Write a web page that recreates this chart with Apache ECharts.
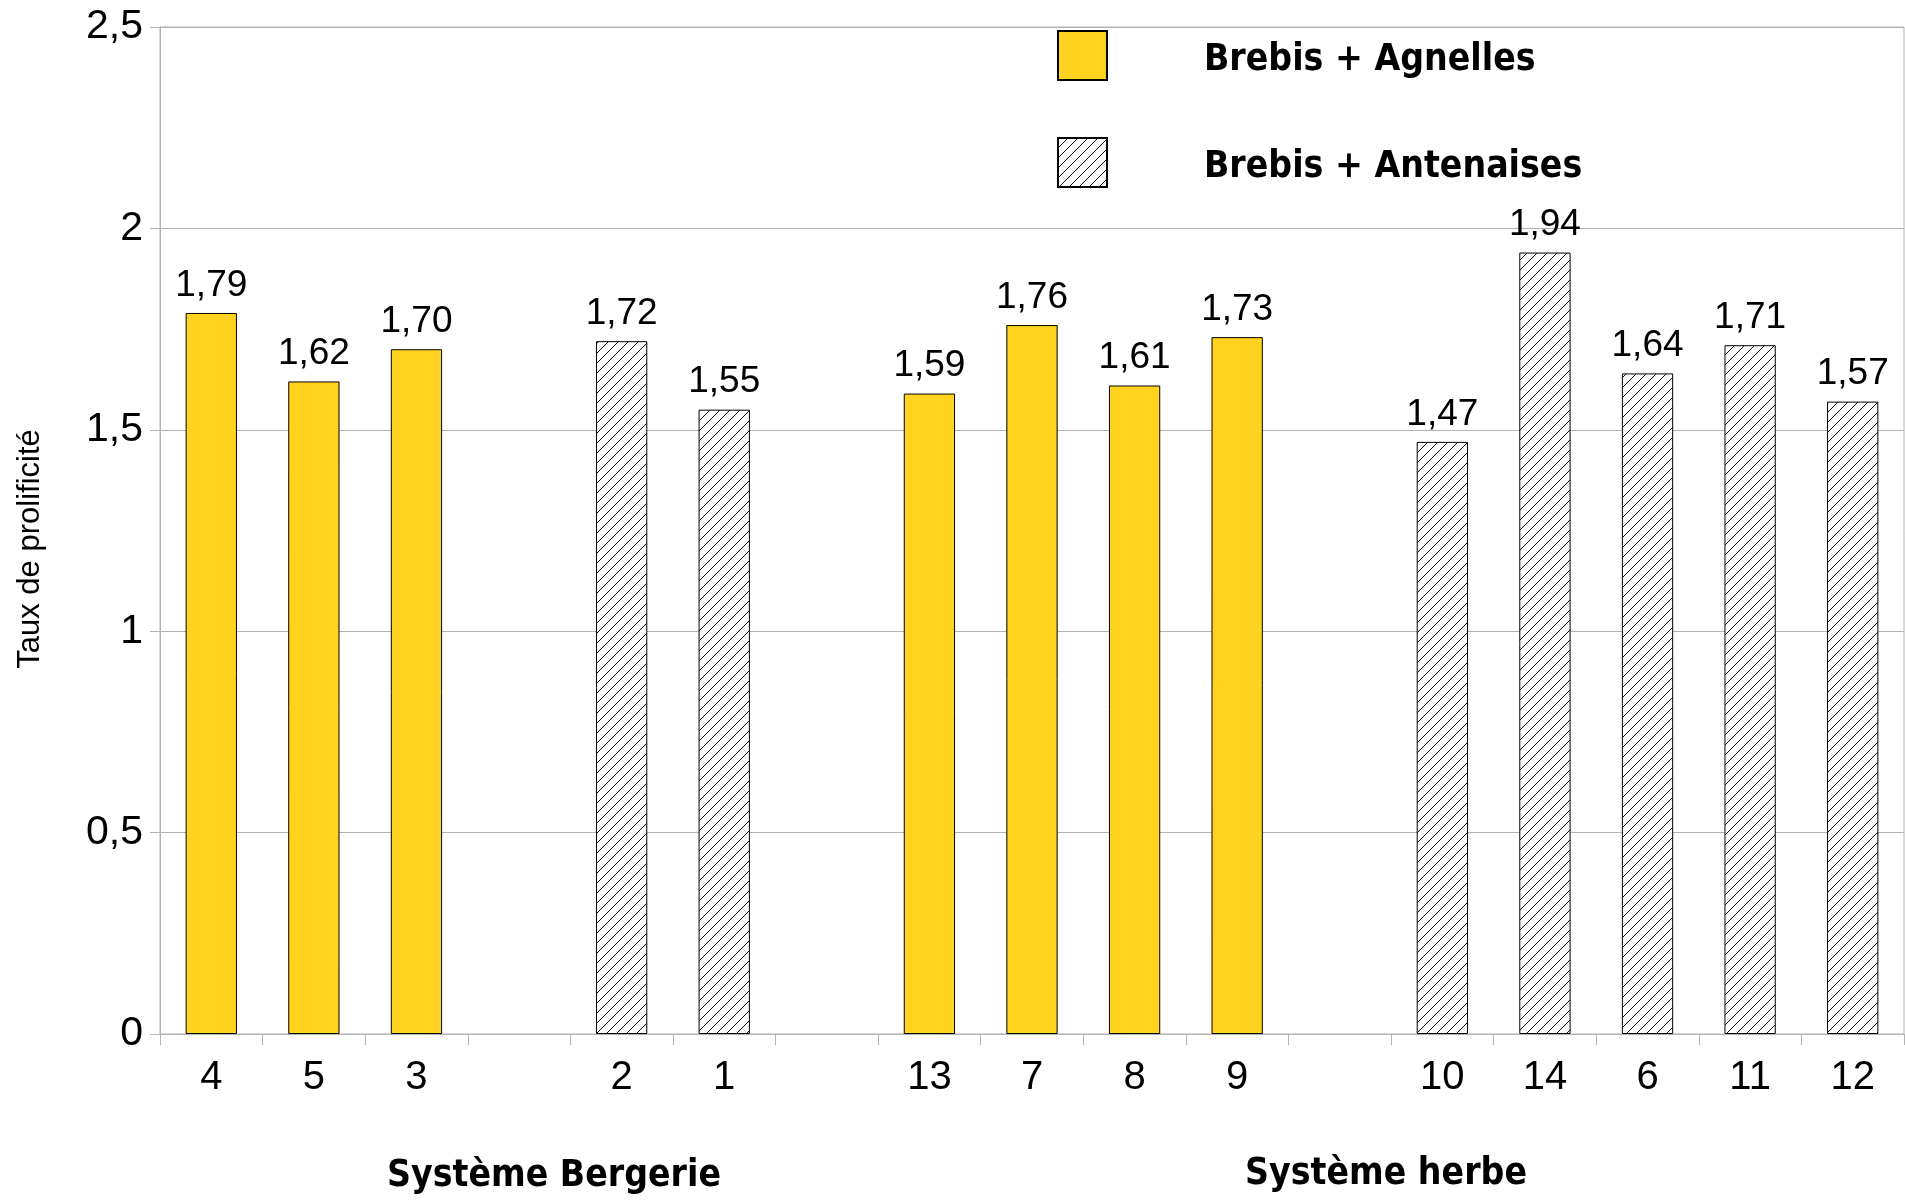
<!DOCTYPE html>
<html>
<head>
<meta charset="utf-8">
<script src="https://cdn.jsdelivr.net/npm/echarts@6/dist/echarts.min.js"></script>
<style>
html,body{margin:0;padding:0;background:#fff;}
#chart{width:1905px;height:1200px;}
</style>
</head>
<body>
<div id="chart"></div>
<script>
// Data
var categories = ['4', '5', '3', ' ', '2', '1', '  ', '13', '7', '8', '9', '   ', '10', '14', '6', '11', '12'];
var agnelles   = [1.79, 1.62, 1.70, null, null, null, null, 1.59, 1.76, 1.61, 1.73, null, null, null, null, null, null];
var antenaises = [null, null, null, null, 1.72, 1.55, null, null, null, null, null, null, 1.47, 1.94, 1.64, 1.71, 1.57];
var seriesNames = ['Brebis + Agnelles', 'Brebis + Antenaises'];
var yTicks = [0, 0.5, 1, 1.5, 2, 2.5];
var yTitle = 'Taux de prolificité';
var groupLabels = ['Système Bergerie', 'Système herbe'];

// hatch pattern
function makeHatch() {
  var s = 10;
  var c = document.createElement('canvas');
  c.width = s; c.height = s;
  var ctx = c.getContext('2d');
  ctx.fillStyle = '#ffffff';
  ctx.fillRect(0, 0, s, s);
  ctx.strokeStyle = '#111111';
  ctx.lineWidth = 1;
  ctx.beginPath();
  ctx.moveTo(-1, s + 1); ctx.lineTo(s + 1, -1);
  ctx.moveTo(-1, 1); ctx.lineTo(1, -1);
  ctx.moveTo(s - 1, s + 1); ctx.lineTo(s + 1, s - 1);
  ctx.stroke();
  return c;
}
var hatch = makeHatch();

var numFont = "'Liberation Sans', Arial, sans-serif";
var boldFont = "'DejaVu Sans Condensed', 'DejaVu Sans', sans-serif";

function fmt(v) { return v.toFixed(2).replace('.', ','); }

var chart = echarts.init(document.getElementById('chart'), null, {renderer: 'canvas'});
var labelOpt = {
  show: true,
  position: 'top',
  distance: 9,
  color: '#000',
  fontFamily: numFont,
  fontSize: 37,
  formatter: function (p) { return p.value == null ? '' : fmt(p.value); }
};
chart.setOption({
  animation: false,
  backgroundColor: '#ffffff',
  grid: {
    left: 160, right: 1, top: 27, bottom: 166,
    show: true, borderColor: '#b3b3b3', borderWidth: 1, backgroundColor: 'transparent'
  },
  legend: {
    orient: 'vertical',
    left: 1052, top: 25,
    icon: 'rect',
    itemWidth: 49, itemHeight: 49, itemGap: 56,
    data: seriesNames,
    formatter: '{t|{name}}',
    textStyle: {
      fontFamily: boldFont, fontWeight: 'bold', fontSize: 37, color: '#000',
      rich: {
        t: {
          fontFamily: boldFont, fontWeight: 'bold', fontSize: 37, color: '#000',
          padding: [10, 0, 0, 92]
        }
      }
    }
  },
  xAxis: {
    type: 'category',
    data: categories,
    axisLine: {lineStyle: {color: '#b3b3b3', width: 1}},
    axisTick: {show: true, interval: 0, length: 11, lineStyle: {color: '#b3b3b3'}},
    axisLabel: {interval: 0, color: '#000', fontFamily: numFont, fontSize: 40, margin: 24},
    splitLine: {show: false}
  },
  yAxis: {
    type: 'value',
    min: 0, max: 2.5, interval: 0.5,
    axisLine: {show: true, lineStyle: {color: '#b3b3b3', width: 1}},
    axisTick: {show: true, length: 10, lineStyle: {color: '#b3b3b3'}},
    axisLabel: {
      color: '#000', fontFamily: numFont, fontSize: 41, margin: 17,
      formatter: function (v) {
        for (var i = 0; i < yTicks.length; i++) { if (Math.abs(yTicks[i] - v) < 1e-9) return String(yTicks[i]).replace('.', ','); }
        return '';
      }
    },
    splitLine: {show: true, lineStyle: {color: '#b3b3b3', width: 1}}
  },
  series: [
    {
      name: seriesNames[0], type: 'bar', stack: 'g', barWidth: '50%',
      data: agnelles,
      itemStyle: {color: '#ffd320', borderColor: '#000', borderWidth: 1},
      label: labelOpt
    },
    {
      name: seriesNames[1], type: 'bar', stack: 'g', barWidth: '50%',
      data: antenaises,
      itemStyle: {color: {image: hatch, repeat: 'repeat'}, borderColor: '#000', borderWidth: 1},
      label: labelOpt
    }
  ],
  graphic: [
    {type: 'text', x: 30, y: 549, rotation: Math.PI / 2,
     style: {text: yTitle, fill: '#000', font: "31px 'Liberation Sans', Arial, sans-serif", align: 'center', verticalAlign: 'middle'}},
    {type: 'text', x: 554, y: 1176,
     style: {text: groupLabels[0], fill: '#000', font: "bold 37px 'DejaVu Sans Condensed', 'DejaVu Sans', sans-serif", align: 'center', verticalAlign: 'middle'}},
    {type: 'text', x: 1386, y: 1174,
     style: {text: groupLabels[1], fill: '#000', font: "bold 37px 'DejaVu Sans Condensed', 'DejaVu Sans', sans-serif", align: 'center', verticalAlign: 'middle'}}
  ]
});
</script>
</body>
</html>
